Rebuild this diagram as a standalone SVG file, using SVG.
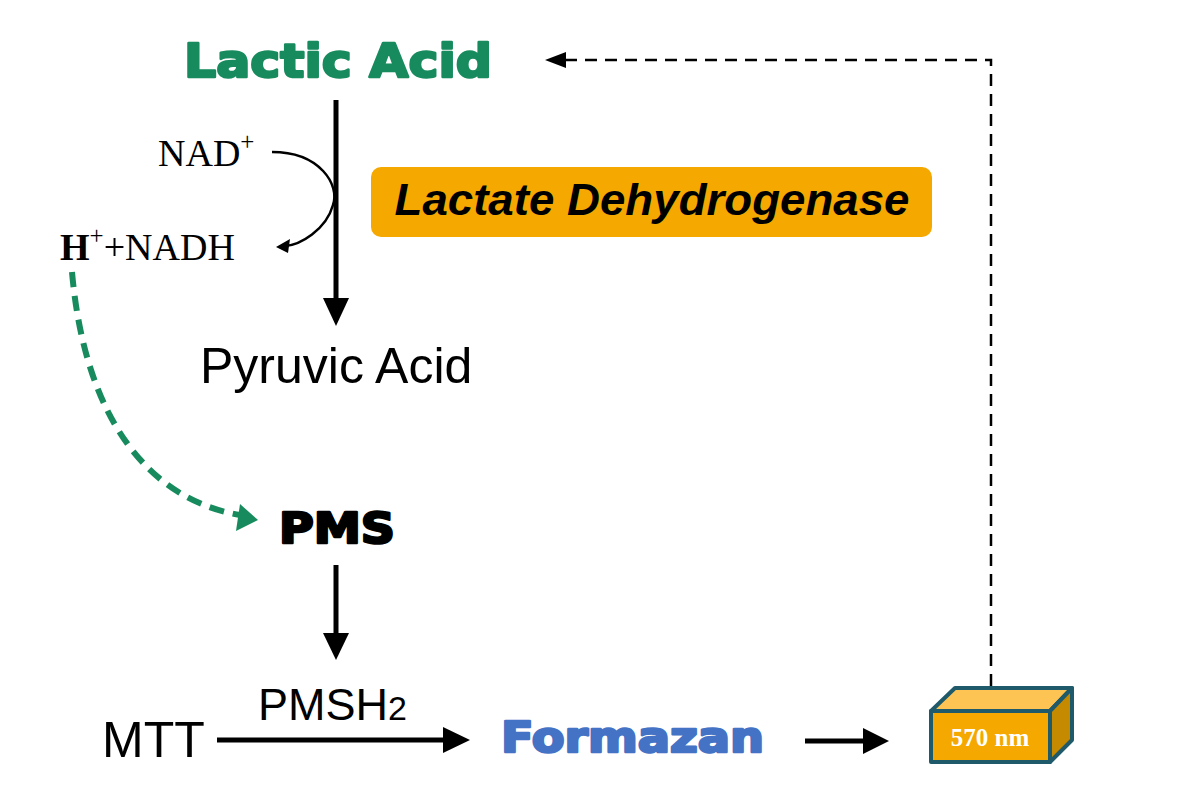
<svg xmlns="http://www.w3.org/2000/svg" width="1182" height="804" viewBox="0 0 1182 804">
<style>
.heavy{font-family:"DejaVu Sans","Liberation Sans",sans-serif;font-weight:900;stroke-width:2.5;stroke-linejoin:round}
.sans{font-family:"Liberation Sans",Arial,sans-serif}
.serif{font-family:"Liberation Serif","Times New Roman",serif}
.ln{stroke:#000;fill:none}
</style>
<rect width="1182" height="804" fill="#fff"/>
<g id="connectors">
<line class="ln" x1="336" y1="100" x2="336" y2="300" stroke-width="5"/>
<path d="M323,298 L349,298 L336,326 z" fill="#000"/>
<path class="ln" d="M272,152 C320,152 340,185 333,205 C326,230 300,245 285,246" stroke-width="2.5"/>
<path d="M276,247 L290,239 L288,253 z" fill="#000"/>
<path d="M72,272 C85,420 150,500 240,515" fill="none" stroke="#178b5d" stroke-width="6" stroke-dasharray="15,9"/>
<path d="M258,520 L236,531 L240,504 z" fill="#178b5d"/>
<line class="ln" x1="336" y1="565" x2="336" y2="635" stroke-width="5"/>
<path d="M323,633 L349,633 L336,660 z" fill="#000"/>
<line class="ln" x1="217" y1="740" x2="445" y2="740" stroke-width="5"/>
<path d="M443,727 L443,753 L470,740 z" fill="#000"/>
<line class="ln" x1="805" y1="741" x2="865" y2="741" stroke-width="5"/>
<path d="M863,728 L863,754 L889,741 z" fill="#000"/>
<path class="ln" d="M991,686 L991,60 L565,60" stroke-width="2.5" stroke-dasharray="12,8"/>
<path d="M545,60 L566,52 L566,68 z" fill="#000"/>
</g>
<g id="lactic"><text x="184" y="77" class="heavy" font-size="46" fill="#178b5d" stroke="#178b5d" textLength="308" lengthAdjust="spacingAndGlyphs">Lactic Acid</text></g>
<g id="ldh">
<rect x="371" y="167" width="561" height="70" rx="10" fill="#f5a800"/>
<text x="652" y="215" class="sans" font-size="44" font-weight="bold" font-style="italic" text-anchor="middle" textLength="515" lengthAdjust="spacingAndGlyphs">Lactate Dehydrogenase</text>
</g>
<g id="nad"><text x="158" y="166" class="serif" font-size="38">NAD<tspan font-size="25" dy="-16">+</tspan></text></g>
<g id="nadh"><text x="60" y="260" class="serif" font-size="38"><tspan font-weight="bold">H</tspan><tspan font-size="25" dy="-16">+</tspan><tspan dy="16">+NADH</tspan></text></g>
<g id="pyruvic"><text x="200" y="383" class="sans" font-size="50">Pyruvic Acid</text></g>
<g id="pms"><text x="279" y="543" class="heavy" font-size="42" stroke="#000" textLength="116" lengthAdjust="spacingAndGlyphs">PMS</text></g>
<g id="mtt"><text x="102" y="757" class="sans" font-size="50">MTT</text></g>
<g id="pmsh2"><text x="258" y="720" class="sans" font-size="45">PMSH<tspan font-size="34">2</tspan></text></g>
<g id="formazan"><text x="501" y="752" class="heavy" font-size="42" fill="#4472c4" stroke="#4472c4" textLength="263" lengthAdjust="spacingAndGlyphs">Formazan</text></g>
<g id="cuvette" stroke="#1f5a6a" stroke-width="4" stroke-linejoin="round">
<path d="M931,711 L955,688 L1072,688 L1050,711 z" fill="#fdc453"/>
<path d="M1050,711 L1072,688 L1072,740 L1050,762 z" fill="#c58a00"/>
<rect x="931" y="711" width="119" height="51" fill="#f5a800"/>
<text x="990" y="746" class="serif" font-size="25" font-weight="bold" fill="#fff" stroke="none" text-anchor="middle">570 nm</text>
</g>
</svg>
